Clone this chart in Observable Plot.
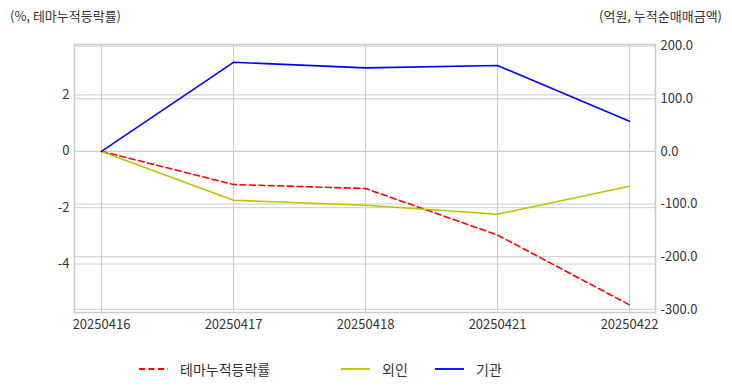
<!DOCTYPE html>
<html>
<head>
<meta charset="utf-8">
<script src="https://cdn.jsdelivr.net/npm/d3@7"></script>
<script src="https://cdn.jsdelivr.net/npm/@observablehq/plot@0.6"></script>
<style>
  html, body { margin: 0; padding: 0; background: #fff; }
  body { font-family: "Noto Sans CJK KR", "Noto Sans", sans-serif; color: #333; }
  #wrap { position: relative; width: 732px; height: 392px; overflow: hidden; }
  .ttl { position: absolute; top: 6px; font-size: 13px; color: #333; white-space: nowrap; }
  #legend { position: absolute; top: 358px; left: 0; width: 732px; height: 24px; font-size: 14px; color: #333; }
  .lg { position: absolute; top: 0; display: flex; align-items: center; height: 22px; }
  .lg svg { margin-right: 12px; }
</style>
</head>
<body>
<div id="wrap">
  <div class="ttl" style="left:10px;">(%, 테마누적등락률)</div>
  <div class="ttl" style="right:10px;">(억원, 누적순매매금액)</div>
  <div id="chart"></div>
  <div id="legend"></div>
</div>
<script>
const dates = ["20250416", "20250417", "20250418", "20250421", "20250422"];
const themeReturn = [0, -1.18, -1.32, -2.97, -5.45];     // left axis, %
const foreign = [0, -92.9, -102.3, -119.3, -66.3];       // right axis, 억원
const institution = [0, 169.2, 158.6, 163.0, 57.4];      // right axis, 억원

const leftTicks = [-4, -2, 0, 2];
const rightTicks = [-300, -200, -100, 0, 100, 200];
const rightTickLabels = ["-300.0", "-200.0", "-100.0", "0.0", "100.0", "200.0"];

const seriesNames = ["테마누적등락률", "외인", "기관"];
const seriesColors = ["#ff0000", "#bfbf00", "#0000ff"];

const leftDomain = [-5.72, 3.79];
const rightDomain = [-306, 203];
const toLeft = d3.scaleLinear().domain(rightDomain).range(leftDomain);

const rows = [];
dates.forEach((d, i) => {
  rows.push({date: d, series: seriesNames[0], y: themeReturn[i]});
  rows.push({date: d, series: seriesNames[1], y: toLeft(foreign[i])});
  rows.push({date: d, series: seriesNames[2], y: toLeft(institution[i])});
});

const rightPos = rightTicks.map(toLeft);
const fontFam = '"Noto Sans CJK KR", "Noto Sans", sans-serif';

const chart = Plot.plot({
  width: 732,
  height: 340,
  marginLeft: 74,
  marginRight: 77,
  marginTop: 44,
  marginBottom: 28,
  style: {fontFamily: fontFam, fontSize: "13px", color: "#333", background: "transparent"},
  x: {type: "point", domain: dates, padding: 0.2},
  y: {domain: leftDomain},
  marks: [
    Plot.gridX(dates, {stroke: "#cccccc", strokeOpacity: 1, strokeWidth: 1}),
    Plot.gridY(leftTicks, {stroke: "#cccccc", strokeOpacity: 1, strokeWidth: 1}),
    Plot.gridY(rightPos, {stroke: "#cccccc", strokeOpacity: 1, strokeWidth: 1}),
    Plot.frame({stroke: "#cccccc", strokeWidth: 1.5}),
    Plot.axisX({tickSize: 0, tickPadding: 7, label: null, fontSize: 13}),
    Plot.axisY(leftTicks, {anchor: "left", tickSize: 0, tickPadding: 5, label: null, tickFormat: d => String(d), fontSize: 13}),
    Plot.axisY(rightPos, {anchor: "right", tickSize: 0, tickPadding: 5, label: null,
      tickFormat: d => rightTickLabels[rightPos.findIndex(t => Math.abs(t - d) < 1e-9)], fontSize: 13}),
    Plot.line(rows.filter(r => r.series === seriesNames[0]), {x: "date", y: "y", stroke: seriesColors[0], strokeWidth: 1.6, strokeDasharray: "6,3.5"}),
    Plot.line(rows.filter(r => r.series === seriesNames[1]), {x: "date", y: "y", stroke: seriesColors[1], strokeWidth: 1.6}),
    Plot.line(rows.filter(r => r.series === seriesNames[2]), {x: "date", y: "y", stroke: seriesColors[2], strokeWidth: 1.6})
  ]
});
document.getElementById("chart").appendChild(chart);

// Legend
const legendPos = [139, 341, 435];
const legend = document.getElementById("legend");
seriesNames.forEach((name, i) => {
  const div = document.createElement("div");
  div.className = "lg";
  div.style.left = legendPos[i] + "px";
  const dash = i === 0 ? 'stroke-dasharray="6,3.5"' : "";
  div.innerHTML = `<svg width="29" height="10"><line x1="0" y1="5" x2="29" y2="5" stroke="${seriesColors[i]}" stroke-width="1.8" ${dash}/></svg><span>${name}</span>`;
  legend.appendChild(div);
});
</script>
</body>
</html>
